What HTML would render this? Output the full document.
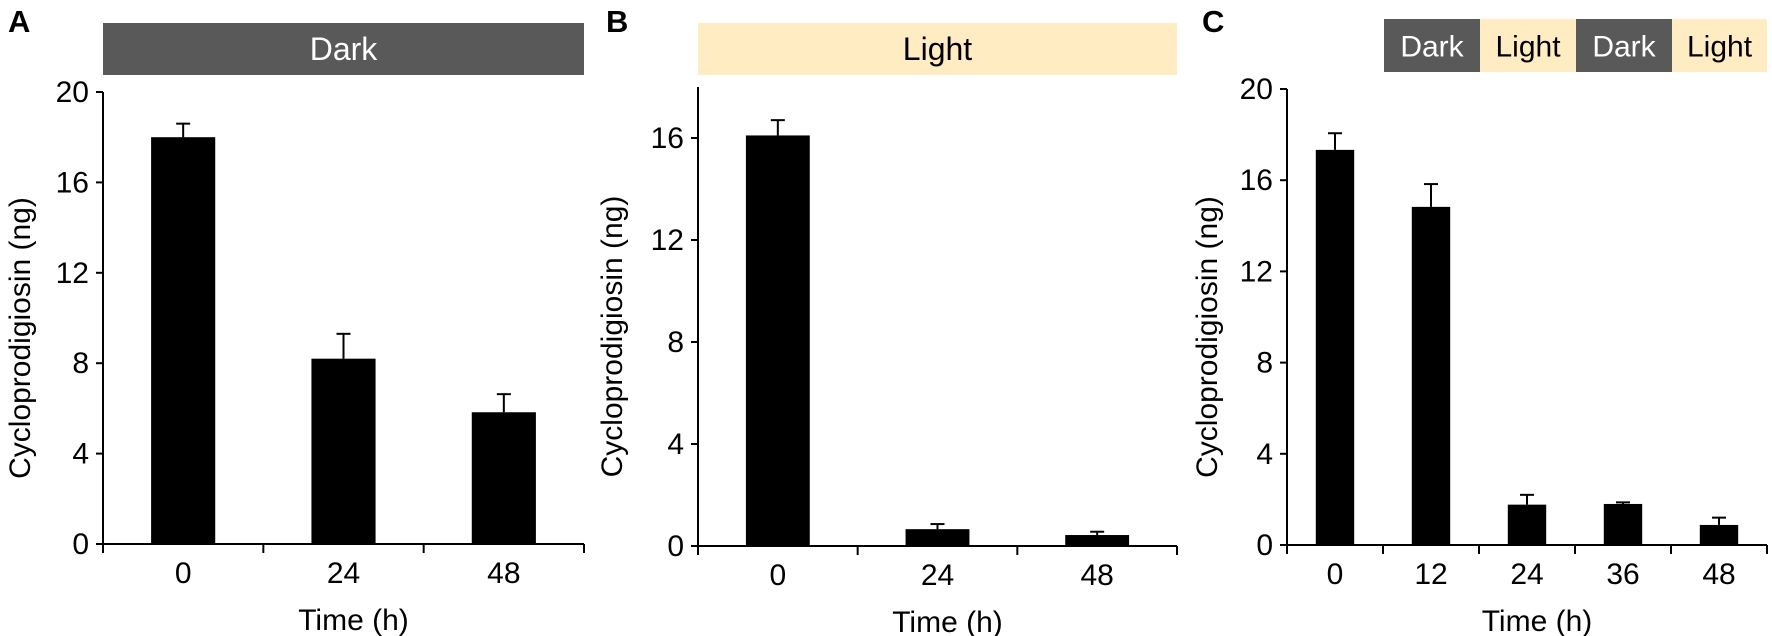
<!DOCTYPE html>
<html><head><meta charset="utf-8"><style>
html,body{margin:0;padding:0;background:#fff;}
svg{display:block;font-family:"Liberation Sans",Arial,sans-serif;}
</style></head><body>
<svg id="fig" width="1772" height="636" viewBox="0 0 1772 636" xmlns="http://www.w3.org/2000/svg">
<g id="hdr"></g>
</svg>
<script>
const catsA = ["0","24","48"];
const valsA = [18.0, 8.2, 5.83];
const errsA = [18.6, 9.3, 6.63];
const ticksA = [0,4,8,12,16,20];
const catsB = ["0","24","48"];
const valsB = [16.1, 0.66, 0.43];
const errsB = [16.7, 0.86, 0.56];
const ticksB = [0,4,8,12,16];
const catsC = ["0","12","24","36","48"];
const valsC = [17.33, 14.83, 1.77, 1.8, 0.88];
const errsC = [18.06, 15.83, 2.2, 1.87, 1.2];
const ticksC = [0,4,8,12,16,20];

const NS="http://www.w3.org/2000/svg";
const svg=document.getElementById('fig');
function mk(tag,attrs,parent){const e=document.createElementNS(NS,tag);for(const k in attrs)e.setAttribute(k,attrs[k]);(parent||svg).appendChild(e);return e;}

function panel(id,cfg,cats,vals,errs,ticks){
  const g=mk('g',{});
  
  
  const {x0,x1,y0,yTop,yMax,barFrac}=cfg;
  const ys=v=>y0-(v/yMax)*(y0-yTop);
  const cw=(x1-x0)/cats.length;
  const xs=i=>x0+cw*(i+0.5);
  const ya=mk('line',{x1:x0,y1:y0,x2:x0,y2:yTop,stroke:'#000','stroke-width':2},g);
  
  
  ticks.forEach(t=>{
    mk('line',{x1:x0-7,y1:ys(t),x2:x0,y2:ys(t),stroke:'#000','stroke-width':2},g);
    const tl=mk('text',{x:x0-14,y:ys(t)+10,'text-anchor':'end','font-size':30,fill:'#000'},g);
    tl.textContent=t;
    
    
  });
  const xa=mk('line',{x1:x0-1,y1:y0,x2:x1,y2:y0,stroke:'#000','stroke-width':2},g);
  
  
  for(let i=0;i<=cats.length;i++){
    const tx=x0+cw*i;
    mk('line',{x1:tx,y1:y0,x2:tx,y2:y0+9,stroke:'#000','stroke-width':2},g);
  }
  cats.forEach((c,i)=>{
    const bw=cw*barFrac;
    const yt=ys(vals[i]), ye=ys(errs[i]);
    const el=mk('line',{x1:xs(i),y1:yt,x2:xs(i),y2:ye,stroke:'#000','stroke-width':2},g);
    
    
    mk('line',{x1:xs(i)-7,y1:ye,x2:xs(i)+7,y2:ye,stroke:'#000','stroke-width':2},g);
    const r=mk('rect',{x:xs(i)-bw/2,y:yt,width:bw,height:y0-yt,fill:'#000'},g);
    
    
    const tl=mk('text',{x:xs(i),y:y0+39,'text-anchor':'middle','font-size':30,fill:'#000'},g);
    tl.textContent=c;
    
    
  });
  const xt=mk('text',{x:(x0+x1)/2+10,y:y0+86,'text-anchor':'middle','font-size':30,fill:'#000'},g);
  xt.textContent='Time (h)';
  
  
  const yt=mk('text',{x:0,y:0,'text-anchor':'middle','font-size':30,fill:'#000',transform:`translate(${cfg.ytx},${(y0+yTop)/2+20}) rotate(-90)`},g);
  yt.textContent='Cycloprodigiosin (ng)';
  
  
}

panel('a',{x0:103,x1:584,y0:544,yTop:92,yMax:20,barFrac:0.4,ytx:30},catsA,valsA,errsA,ticksA);
panel('b',{x0:698,x1:1177,y0:546,yTop:87,yMax:18,barFrac:0.4,ytx:622},catsB,valsB,errsB,ticksB);
panel('c',{x0:1287,x1:1767,y0:545,yTop:89,yMax:20,barFrac:0.4,ytx:1217},catsC,valsC,errsC,ticksC);

[['A',8,32],['B',606,32],['C',1202,32]].forEach(([t,x,y])=>{
  const e=mk('text',{x:x,y:y,'font-size':31,'font-weight':'bold',fill:'#000'});
  e.textContent=t;
  
  
});
const hdrs=[
 ['Dark',103,584,23,75,'#595959','#fff',32],
 ['Light',698,1177,23,75,'#ffecc2','#000',32],
 ['Dark',1384,1480,19,72,'#595959','#fff',30],
 ['Light',1480,1576,19,72,'#ffecc2','#000',30],
 ['Dark',1576,1672,19,72,'#595959','#fff',30],
 ['Light',1672,1767,19,72,'#ffecc2','#000',30]
];
hdrs.forEach(([t,xa,xb,ya,yb,bg,fg,fs])=>{
  const r=mk('rect',{x:xa,y:ya,width:xb-xa,height:yb-ya,fill:bg});
  
  
  const e=mk('text',{x:(xa+xb)/2,y:(ya+yb)/2+11,'text-anchor':'middle','font-size':fs,fill:fg});
  e.textContent=t;
  
  
});
</script>
</body></html>
